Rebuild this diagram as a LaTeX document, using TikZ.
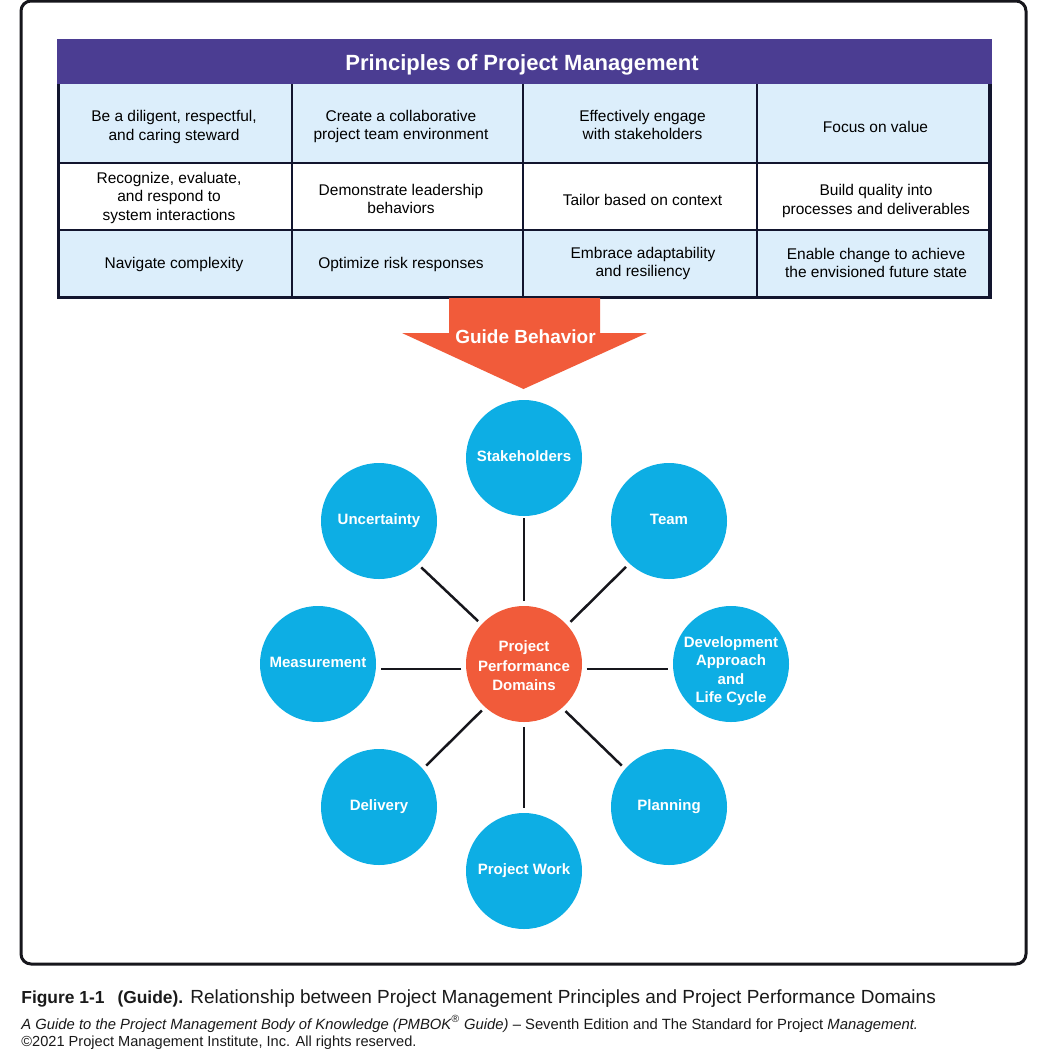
\documentclass[tikz,border=0pt]{standalone}
\usepackage{fontspec}
\setmainfont{Liberation Sans}
\definecolor{framec}{HTML}{16161C}
\definecolor{headc}{HTML}{4B3D92}
\definecolor{bluecell}{HTML}{DCEEFB}
\definecolor{gridc}{HTML}{12152E}
\definecolor{orangec}{HTML}{F15B3A}
\definecolor{cyanc}{HTML}{0DAEE4}
\definecolor{capc}{HTML}{1A1A1A}
\tikzset{
  x=0.5pt,y=-0.5pt,
  cellbox/.style={draw=gridc,line width=1pt,inner sep=0pt},
  bluebox/.style={cellbox,fill=bluecell},
  whitebox/.style={cellbox,fill=white},
  celltext/.style={inner sep=0pt,align=center,text=black,font=\fontsize{7.75}{9.25}\selectfont},
  domcircle/.style={circle,minimum size=58pt,inner sep=0pt,align=center,text=white},
  outercircle/.style={domcircle,fill=cyanc,font=\bfseries\fontsize{7.5}{9.2}\selectfont},
  hubcircle/.style={domcircle,fill=orangec,font=\bfseries\fontsize{7.5}{9.7}\selectfont},
  domtext/.style={inner sep=0pt,align=center,text=white,font=\bfseries\fontsize{7.5}{9.2}\selectfont},
  spoke/.style={draw=framec,line width=1.25pt,shorten >=2.2pt,shorten <=2.2pt},
  captext/.style={anchor=base west,inner sep=0pt,text=capc},
  colone/.style={minimum width=116.25pt},
  coltwo/.style={minimum width=115.75pt},
  colthree/.style={minimum width=117pt},
  colfour/.style={minimum width=116.5pt},
  rowone/.style={minimum height=40pt},
  rowtwo/.style={minimum height=33.5pt},
}
\begin{document}
\begin{tikzpicture}
\useasboundingbox (0,0) rectangle (1050,1050);
\fill[white] (0,0) rectangle (1050,1050);
% frame
\node[draw=framec,line width=1.5pt,rounded corners=5pt,minimum width=502.5pt,minimum height=481.5pt,inner sep=0pt] (frame) at (523.5,482.5) {};
% row 1 boxes
\node[bluebox,colone,rowone] (c11) at (175.25,123) {};
\node[bluebox,coltwo,rowone] (c12) at (407.25,123) {};
\node[bluebox,colthree,rowone] (c13) at (640,123) {};
\node[bluebox,colfour,rowone] (c14) at (873.5,123) {};
% row 2 boxes
\node[whitebox,colone,rowtwo] (c21) at (175.25,196.5) {};
\node[whitebox,coltwo,rowtwo] (c22) at (407.25,196.5) {};
\node[whitebox,colthree,rowtwo] (c23) at (640,196.5) {};
\node[whitebox,colfour,rowtwo] (c24) at (873.5,196.5) {};
% row 3 boxes
\node[bluebox,colone,rowtwo] (c31) at (175.25,263.5) {};
\node[bluebox,coltwo,rowtwo] (c32) at (407.25,263.5) {};
\node[bluebox,colthree,rowtwo] (c33) at (640,263.5) {};
\node[bluebox,colfour,rowtwo] (c34) at (873.5,263.5) {};
\draw[gridc,line width=1.6pt] (58.5,83) -- (58.5,297.5) -- (990,297.5) -- (990,83);
% header
\node[fill=headc,minimum width=467.5pt,minimum height=22.5pt,inner sep=0pt] (head) at (524.5,61.5) {};
\node[inner sep=0pt,text=white,font=\bfseries\fontsize{11}{12}\selectfont] (headt) at (522,65) {Principles of Project Management};
% cell texts
\node[celltext] (t11) at (174,127) {Be a diligent, respectful,\\and caring steward};
\node[celltext] (t12) at (401,126.5) {Create a collaborative\\project team environment};
\node[celltext] (t13) at (642.5,125) {Effectively engage\\with stakeholders};
\node[celltext] (t14) at (875.5,127) {Focus on value};
\node[celltext] (t21) at (169,197.5) {Recognize, evaluate,\\and respond to\\system interactions};
\node[celltext] (t22) at (401,199) {Demonstrate leadership\\behaviors};
\node[celltext] (t23) at (642.5,200) {Tailor based on context};
\node[celltext] (t24) at (876,201) {Build quality into\\processes and deliverables};
\node[celltext] (t31) at (174,264) {Navigate complexity};
\node[celltext] (t32) at (401,264) {Optimize risk responses};
\node[celltext] (t33) at (643,263.5) {Embrace adaptability\\and resiliency};
\node[celltext] (t34) at (876,263) {Enable change to achieve\\the envisioned future state};
% arrow
\fill[orangec] (449,298) -- (600,298) -- (600,333) -- (647,333) -- (523.5,389) -- (402,333) -- (449,333) -- cycle;
\node[text=white,inner sep=0pt,font=\bfseries\fontsize{9.5}{11}\selectfont] (guide) at (525.5,337) {Guide Behavior};
% circles
\node[hubcircle] (hubn) at (524,664) {};
\node[domtext,font=\bfseries\fontsize{7.5}{9.7}\selectfont] (hubt) at (524,666) {Project\\Performance\\Domains};
\node[outercircle] (s) at (524,458) {};
\node[outercircle] (t) at (669,521) {};
\node[outercircle] (d) at (731,664) {};
\node[outercircle] (pl) at (669,807) {};
\node[outercircle] (pw) at (524,871) {};
\node[outercircle] (de) at (379,807) {};
\node[outercircle] (m) at (318,664) {};
\node[outercircle] (u) at (379,521) {};
\node[domtext] (st) at (524,456) {Stakeholders};
\node[domtext] (tt) at (669,519) {Team};
\node[domtext] (dt) at (731,671) {Development\\Approach\\and\\Life Cycle};
\node[domtext] (plt) at (669,807) {Planning};
\node[domtext] (pwt) at (524,871) {Project Work};
\node[domtext] (det) at (379,807) {Delivery};
\node[domtext] (mt) at (318,662) {Measurement};
\node[domtext] (ut) at (379,521) {Uncertainty};
% spokes
\draw[spoke,shorten >=1pt] (hubn.90) -- (s.270);
\draw[spoke] (hubn.42.4) -- (t.227);
\draw[spoke] (hubn.355) -- (d.185);
\draw[spoke] (hubn.311.7) -- (pl.139.6);
\draw[spoke] (hubn.270) -- (pw.90);
\draw[spoke] (hubn.228.3) -- (de.41);
\draw[spoke] (hubn.185) -- (m.355);
\draw[spoke] (hubn.137.6) -- (u.312.4);
% caption
\node[captext,font=\fontsize{9.5}{10}\selectfont] (capa) at (21,1003) {\textbf{\fontsize{8.7}{10}\selectfont Figure 1-1\hspace{6.5pt}(Guide).}\hspace{0pt} Relationship between Project Management Principles and Project Performance Domains};
\node[captext,font=\fontsize{7.41}{8}\selectfont] (capb) at (21,1029) {\textit{A Guide to the Project Management Body of Knowledge (PMBOK\textsuperscript{®} Guide)} -- Seventh Edition and The Standard for Project \textit{Management.}};
\node[captext,font=\fontsize{7.3}{8}\selectfont] (capcc) at (21,1046) {©2021 Project Management Institute, Inc. All rights reserved.};
\end{tikzpicture}
\end{document}
